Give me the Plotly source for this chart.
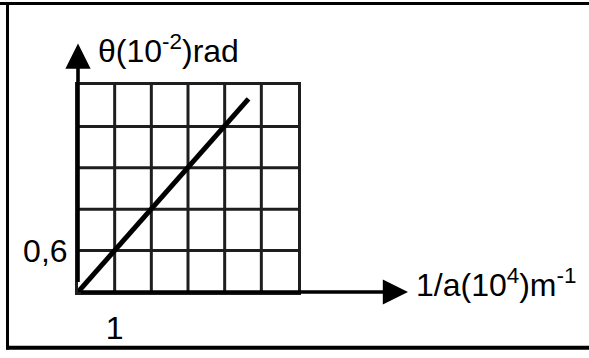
import plotly.graph_objects as go

# grid / axis values
x_grid = [0, 1, 2, 3, 4, 5, 6]
y_grid = [0, 0.6, 1.2, 1.8, 2.4, 3.0]
x_ticks = [1]
x_ticktext = ['1']
y_ticks = [0.6]
y_ticktext = ['0,6']

# the measured straight line theta = f(1/a)
inv_a = [0, 4.65]
theta = [0, 2.8]

# axis arrow tips
x_arrow_tip = 9
y_arrow_tip = 3.6

W, H = 589, 358
L, R, T, B = 78, 291, 85, 61
FONT = 'Liberation Sans, Arial, sans-serif'
FSIZE = 32


def paper_x(px):
    return (px - L) / (W - L - R)


def paper_y(py):
    return (H - B - py) / (H - T - B)


fig = go.Figure()
fig.add_trace(go.Scatter(x=inv_a, y=theta, mode='lines',
                         line=dict(color='black', width=5), cliponaxis=False,
                         showlegend=False, hoverinfo='skip'))

fig.update_xaxes(range=[x_grid[0], x_grid[-1]], tickvals=x_ticks, ticktext=x_ticktext,
                 showgrid=False, showline=True, linecolor='#1e1e1e', linewidth=3, mirror=True,
                 zeroline=False, ticks='', ticklabelstandoff=6,
                 tickfont=dict(family=FONT, size=FSIZE, color='black'))
fig.update_yaxes(range=[y_grid[0], y_grid[-1]], tickvals=y_ticks, ticktext=y_ticktext,
                 showgrid=False, showline=True, linecolor='#1e1e1e', linewidth=3, mirror=True,
                 zeroline=False, ticks='', ticklabelstandoff=1,
                 tickfont=dict(family=FONT, size=FSIZE, color='black'))

# square grid drawn from the grid values
for yv in y_grid[1:-1]:
    fig.add_shape(type='line', xref='x', yref='y', x0=x_grid[0], x1=x_grid[-1], y0=yv, y1=yv,
                  line=dict(color='#1e1e1e', width=3), layer='below')
for xv in x_grid[1:-1]:
    fig.add_shape(type='line', xref='x', yref='y', x0=xv, x1=xv, y0=y_grid[0], y1=y_grid[-1],
                  line=dict(color='#1e1e1e', width=3), layer='below')

# axes with arrows
arrow = dict(text=' ', showarrow=True, arrowhead=2, arrowsize=1.4, arrowwidth=3.6,
             arrowcolor='black', axref='x', ayref='y', xref='x', yref='y',
             standoff=0, startstandoff=0, ax=0, ay=0)
fig.add_annotation(x=0, y=y_arrow_tip, **arrow)
fig.add_annotation(x=x_arrow_tip, y=0, **arrow)

fig.add_annotation(x=paper_x(96), y=paper_y(48), xref='paper', yref='paper',
                   text='θ(10<sup>-2</sup>)rad', showarrow=False,
                   xanchor='left', yanchor='middle',
                   font=dict(family=FONT, size=FSIZE, color='black'))
fig.add_annotation(x=paper_x(414), y=paper_y(288), xref='paper', yref='paper',
                   text='1/a(10<sup>4</sup>)m<sup>-1</sup>', showarrow=False,
                   xanchor='left', yanchor='middle',
                   font=dict(family=FONT, size=FSIZE, color='black'))

# picture frame (no right edge in the original)
fig.add_shape(type='line', xref='paper', yref='paper',
              x0=paper_x(0), x1=paper_x(W), y0=paper_y(1.5), y1=paper_y(1.5),
              line=dict(color='black', width=3))
fig.add_shape(type='line', xref='paper', yref='paper',
              x0=paper_x(7.5), x1=paper_x(7.5), y0=paper_y(0), y1=paper_y(356),
              line=dict(color='black', width=3))
fig.add_shape(type='line', xref='paper', yref='paper',
              x0=paper_x(6), x1=paper_x(W), y0=paper_y(354), y1=paper_y(354),
              line=dict(color='black', width=4))

fig.update_layout(width=W, height=H, autosize=False,
                  margin=dict(l=L, r=R, t=T, b=B, pad=0),
                  plot_bgcolor='white', paper_bgcolor='white',
                  showlegend=False)

fig.write_html('out.html', config={'displayModeBar': False},
               post_script="document.body.style.margin = '0';")
